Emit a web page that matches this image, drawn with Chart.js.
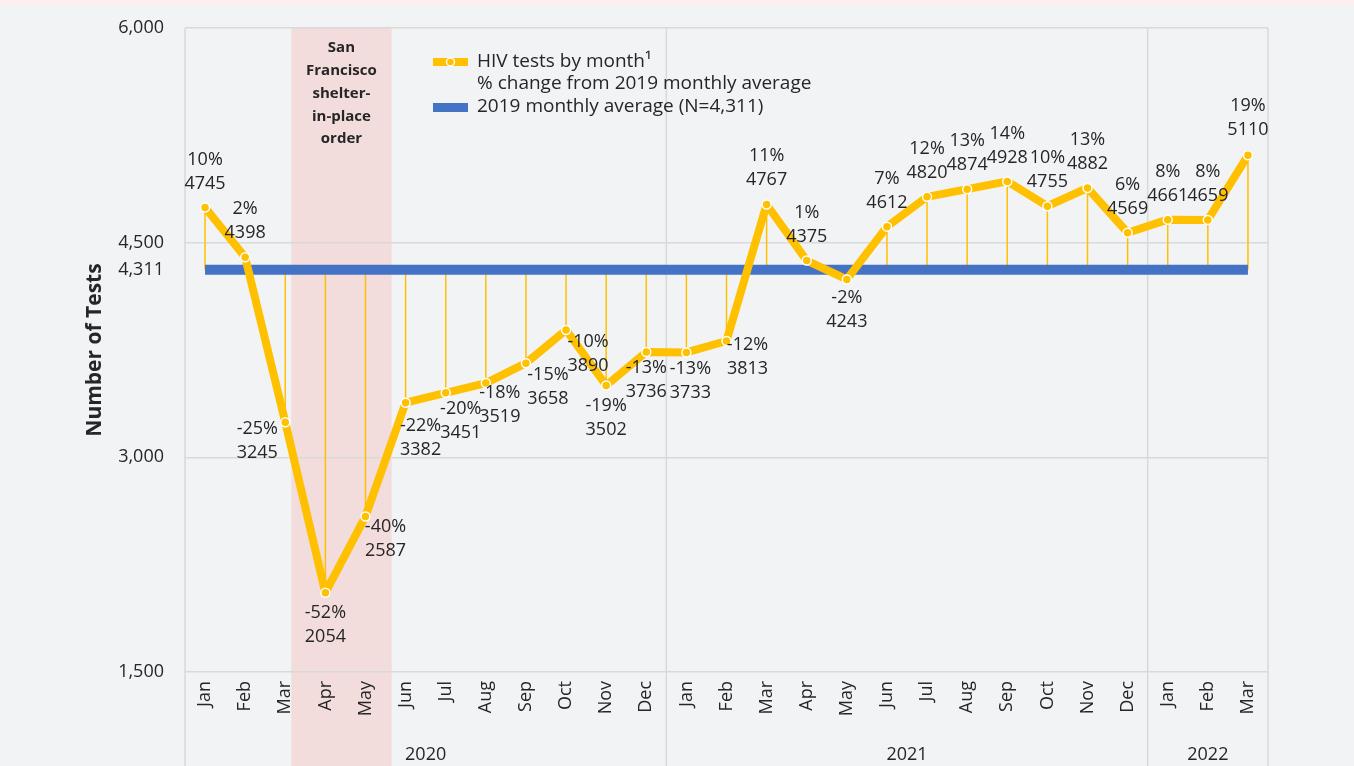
<!DOCTYPE html>
<html>
<head>
<meta charset="utf-8">
<title>HIV tests by month</title>
<script src="https://cdn.jsdelivr.net/npm/chart.js@4.4.1/dist/chart.umd.min.js"></script>
<style>
    html, body { margin: 0; padding: 0; background: #f2f3f5; }
    #wrap { position: relative; width: 1354px; height: 766px; }
</style>
</head>
<body>
<div id="wrap"><canvas id="testsChart" width="1354" height="766"></canvas></div>
<script>
// Chart data
const months = ['Jan', 'Feb', 'Mar', 'Apr', 'May', 'Jun', 'Jul', 'Aug', 'Sep', 'Oct', 'Nov', 'Dec',
                'Jan', 'Feb', 'Mar', 'Apr', 'May', 'Jun', 'Jul', 'Aug', 'Sep', 'Oct', 'Nov', 'Dec',
                'Jan', 'Feb', 'Mar'];
const years = ['2020', '2021', '2022'];
const yearMonthCount = [12, 12, 3];
const hivTests = [4745, 4398, 3245, 2054, 2587, 3382, 3451, 3519, 3658, 3890, 3502, 3736,
                  3733, 3813, 4767, 4375, 4243, 4612, 4820, 4874, 4928, 4755, 4882, 4569,
                  4661, 4659, 5110];
const pctChange = ['10%', '2%', '-25%', '-52%', '-40%', '-22%', '-20%', '-18%', '-15%', '-10%', '-19%', '-13%',
                   '-13%', '-12%', '11%', '1%', '-2%', '7%', '12%', '13%', '14%', '10%', '13%', '6%',
                   '8%', '8%', '19%'];
const avg2019 = 4311;
const yTicks = [1500, 3000, 4311, 4500, 6000];
const shelterText = ['San', 'Francisco', 'shelter-', 'in-place', 'order'];
// shaded period, in category units (Mar .. May 2020)
const shelterRange = [2.15, 4.65];

const FONT = '"Open Sans", "Noto Sans", sans-serif';
const TEXT = '#262626';
const GRID = '#d9d9d9';
const YELLOW = '#FFC000';
const BLUE = '#4472C4';

// where each data label sits relative to its point: [dx, dy of the % line]
const labelOffsets = [
    [0, -48], [0, -48], [-28, 7], [0, 20], [20, 10], [15, 23], [15, 16], [14, 10], [22, 12], [22, 12], [0, 20], [0, 16],
    [4, 16], [21, 4], [0, -49], [0, -48], [0, 18], [0, -48], [0, -48], [0, -48], [0, -48], [0, -48], [0, -48], [0, -48],
    [0, -48], [0, -48], [0, -49]
];

const backdropPlugin = {
    id: 'backdrop',
    beforeDraw(chart) {
        const {ctx, chartArea, scales: {x}} = chart;
        ctx.save();
        // bit of the page header above the chart
        ctx.fillStyle = '#fcefef';
        ctx.fillRect(0, 0, chart.width, 6);
        // shelter-in-place shading
        const x0 = x.getPixelForValue(shelterRange[0]);
        const x1 = x.getPixelForValue(shelterRange[1]);
        ctx.fillStyle = '#f2dcdc';
        ctx.fillRect(x0, chartArea.top, x1 - x0, chart.height - chartArea.top);
        ctx.restore();
    },
    beforeDatasetsDraw(chart) {
        const {ctx, chartArea, scales: {x, y}} = chart;
        ctx.save();

        // frame + year separators, running down through the label area
        const cw = x.getPixelForValue(1) - x.getPixelForValue(0);
        let edges = [chartArea.left];
        let idx = 0;
        yearMonthCount.forEach(n => {
            idx += n;
            edges.push(x.getPixelForValue(idx - 1) + cw / 2);
        });
        ctx.strokeStyle = GRID;
        ctx.lineWidth = 1.5;
        edges.forEach(px => {
            ctx.beginPath();
            ctx.moveTo(px, chartArea.top);
            ctx.lineTo(px, chart.height);
            ctx.stroke();
        });

        // year labels centred in each block
        ctx.fillStyle = TEXT;
        ctx.font = '18px ' + FONT;
        ctx.textAlign = 'center';
        ctx.textBaseline = 'middle';
        years.forEach((yr, i) => {
            ctx.fillText(yr, (edges[i] + edges[i + 1]) / 2, chartArea.bottom + 83);
        });

        // shading caption
        const x0 = x.getPixelForValue(shelterRange[0]);
        const x1 = x.getPixelForValue(shelterRange[1]);
        ctx.font = 'bold 15px ' + FONT;
        shelterText.forEach((t, i) => {
            ctx.fillText(t, (x0 + x1) / 2, chartArea.top + 20 + i * 22.8);
        });

        // drop lines from each point to the 2019 average
        const yAvg = y.getPixelForValue(avg2019);
        ctx.strokeStyle = YELLOW;
        ctx.lineWidth = 1.5;
        hivTests.forEach((v, i) => {
            const px = x.getPixelForValue(i);
            ctx.beginPath();
            ctx.moveTo(px, y.getPixelForValue(v));
            ctx.lineTo(px, yAvg);
            ctx.stroke();
        });
        ctx.restore();
    },
    afterDatasetsDraw(chart) {
        const {ctx} = chart;
        const meta = chart.getDatasetMeta(0);
        ctx.save();
        ctx.fillStyle = TEXT;
        ctx.font = '18px ' + FONT;
        ctx.textAlign = 'center';
        ctx.textBaseline = 'middle';
        meta.data.forEach((pt, i) => {
            const [dx, dy] = labelOffsets[i];
            ctx.fillText(pctChange[i], pt.x + dx, pt.y + dy);
            ctx.fillText(String(hivTests[i]), pt.x + dx, pt.y + dy + 24);
        });

        // legend
        const lx = 433, lw = 35;
        ctx.textAlign = 'left';
        ctx.font = '19px ' + FONT;
        ctx.strokeStyle = YELLOW;
        ctx.lineWidth = 8;
        ctx.beginPath();
        ctx.moveTo(lx, 62);
        ctx.lineTo(lx + lw, 62);
        ctx.stroke();
        ctx.beginPath();
        ctx.arc(lx + lw / 2, 62, 4, 0, Math.PI * 2);
        ctx.fillStyle = YELLOW;
        ctx.fill();
        ctx.strokeStyle = '#fff';
        ctx.lineWidth = 1.5;
        ctx.stroke();
        ctx.fillStyle = BLUE;
        ctx.fillRect(lx, 103, lw, 9);
        ctx.fillStyle = TEXT;
        ctx.fillText('HIV tests by month\u00b9', lx + 44, 62);
        ctx.fillText('% change from 2019 monthly average', lx + 44, 84);
        ctx.fillText('2019 monthly average (N=4,311)', lx + 44, 107);
        ctx.restore();
    }
};

new Chart(document.getElementById('testsChart'), {
    type: 'line',
    data: {
        labels: months,
        datasets: [{
            label: 'HIV tests by month',
            data: hivTests,
            borderColor: YELLOW,
            backgroundColor: YELLOW,
            borderWidth: 8,
            borderJoinStyle: 'round',
            pointRadius: 4.5,
            pointBackgroundColor: YELLOW,
            pointBorderColor: '#ffffff',
            pointBorderWidth: 1.5,
            tension: 0
        }, {
            label: '2019 monthly average (N=4,311)',
            data: months.map(() => avg2019),
            borderColor: BLUE,
            borderWidth: 10,
            borderCapStyle: 'butt',
            pointRadius: 0
        }]
    },
    options: {
        responsive: false,
        animation: false,
        layout: {
            padding: {top: 28, right: 86, bottom: 0, left: 0}
        },
        plugins: {
            legend: {display: false},
            tooltip: {enabled: false}
        },
        scales: {
            x: {
                offset: true,
                grid: {display: false, drawTicks: false},
                border: {display: false},
                ticks: {
                    autoSkip: false,
                    minRotation: 90,
                    maxRotation: 90,
                    padding: 9,
                    color: TEXT,
                    font: {family: FONT, size: 18}
                },
                afterFit(scale) {
                    scale.height = 94;
                }
            },
            y: {
                min: 1500,
                max: 6000,
                afterBuildTicks(scale) {
                    scale.ticks = yTicks.map(v => ({value: v}));
                },
                grid: {
                    drawTicks: false,
                    lineWidth: 1.5,
                    color: ctx => (ctx.tick && ctx.tick.value === avg2019) ? 'rgba(0,0,0,0)' : GRID
                },
                border: {display: false},
                ticks: {
                    padding: 21,
                    color: TEXT,
                    font: {family: FONT, size: 18},
                    callback: v => v.toLocaleString('en-US')
                },
                title: {
                    display: true,
                    text: 'Number of Tests',
                    color: TEXT,
                    font: {family: FONT, size: 21, weight: 'bold'},
                    padding: {top: 82}
                },
                afterFit(scale) {
                    scale.width = 185;
                    // tick padding would otherwise push the plot area down
                    scale.paddingTop = 0;
                    scale.paddingBottom = 0;
                }
            }
        }
    },
    plugins: [backdropPlugin]
});
</script>
</body>
</html>
